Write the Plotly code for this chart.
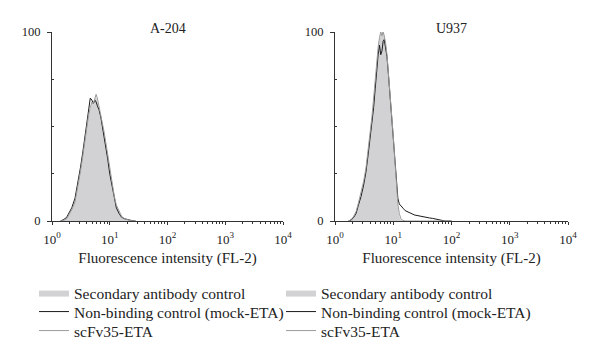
import plotly.graph_objects as go

# ---------------- data ----------------
panel_titles = ["A-204", "U937"]
series_names = ["Secondary antibody control", "Non-binding control (mock-ETA)", "scFv35-ETA"]
x_title = "Fluorescence intensity (FL-2)"
x_tickvals = [1, 10, 100, 1000, 10000]
x_ticktext = ["10<sup>0</sup>", "10<sup>1</sup>", "10<sup>2</sup>", "10<sup>3</sup>", "10<sup>4</sup>"]
y_tickvals = [0, 100]
y_minor_vals = [25, 50, 75]

# A-204 panel
a204_x = [1.4, 1.6, 1.8, 2.0, 2.2, 2.5, 2.8, 3.1, 3.4, 3.7, 4.0, 4.3, 4.6, 4.9, 5.2, 5.5, 5.8,
          6.1, 6.5, 7.0, 7.5, 8.0, 8.6, 9.2, 10, 11, 12, 13, 14.5, 16, 18, 20, 22.5, 25, 28]
a204_secondary = [0, 0.5, 1.5, 4, 6, 11, 19, 27, 35, 44, 50, 56, 59, 62, 63, 64, 66,
                  63, 60, 56, 51, 46, 40, 34, 26, 19, 12, 8, 4.5, 2, 1, 0.5, 0.2, 0, 0]
a204_nonbinding = [0, 0.8, 2, 4.5, 7, 12, 20, 28, 36, 45, 52, 58, 65, 64, 62, 64, 63,
                   61, 59, 55, 50, 45, 39, 33, 25, 18, 11, 7, 4, 2, 1.2, 0.8, 0.3, 0.1, 0]
a204_scfv = [0, 0.3, 1.2, 3.5, 6, 10, 18, 26, 34, 43, 50, 56, 60, 63, 62, 65, 67,
             65, 61, 57, 52, 47, 41, 35, 27, 20, 13, 8.5, 5, 2.5, 1.2, 0.6, 0.3, 0, 0]

# U937 panel
u937_x = [1.7, 1.9, 2.1, 2.3, 2.5, 2.8, 3.1, 3.4, 3.7, 4.0, 4.3, 4.6, 4.9, 5.2, 5.5, 5.8, 6.1,
          6.4, 6.7, 7.0, 7.4, 7.8, 8.2, 8.6, 9.0, 9.5, 10, 10.5, 11, 11.5, 12, 12.7, 13.4,
          14.2, 15, 16, 17.5, 19, 21, 23, 26, 29, 33, 37, 42, 47, 53, 60, 68, 77, 88, 100]
u937_secondary = [0, 1, 3, 5, 9, 14, 20, 27, 36, 44, 53, 64, 75, 84, 91, 96, 99,
                  100, 100, 99, 95, 89, 80, 71, 63, 53, 43, 32, 22, 13, 7, 2.3, 0.8,
                  0.2, 0, 0, 0, 0, 0, 0, 0, 0, 0, 0, 0, 0, 0, 0, 0, 0, 0, 0]
u937_nonbinding = [0, 0.5, 2, 4, 8, 13, 19, 26, 35, 43, 50, 60, 70, 80, 88, 93, 88,
                   90, 95, 96, 92, 87, 79, 71, 63, 54, 45, 35, 26, 18, 12, 9, 8,
                   7, 6.5, 5.5, 4.8, 4.3, 3.8, 3.2, 2.8, 2.6, 2.4, 2, 1.6, 1.4, 1, 0.6, 0.3, 0, 0, 0]
u937_scfv = [0, 0.8, 2.5, 5, 9, 15, 21, 28, 37, 46, 55, 65, 76, 85, 92, 97, 100,
             98, 100, 98, 94, 88, 80, 72, 64, 55, 45, 35, 25, 16, 9, 4, 1.5,
             0.5, 0.2, 0, 0, 0, 0, 0, 0, 0, 0, 0, 0, 0, 0, 0, 0, 0, 0, 0]

panels = [
    (a204_x, a204_secondary, a204_nonbinding, a204_scfv),
    (u937_x, u937_secondary, u937_nonbinding, u937_scfv),
]

# ---------------- styling ----------------
FONT = "Liberation Serif"
TXT = "#222222"
FILL = "#d2d2d4"
BLACK = "#1a1a1a"
LIGHT = "#9a9a9a"
AXIS = "#333333"
PAGE_OFF = 8           # default body margin of the html page
W, H = 600 - PAGE_OFF, 355 - PAGE_OFF


def fx(px):  # page x pixel -> paper fraction
    return (px - PAGE_OFF) / W


def fy(py):  # page y pixel -> paper fraction
    return (H - (py - PAGE_OFF)) / H


x_domains = [[fx(52), fx(283)], [fx(335), fx(568)]]
y_domain = [fy(221), fy(32)]
legend_x = [fx(74 - 40), fx(321 - 40)]
legend_rows = [293, 312, 331]
minor_x = [m * 10 ** d for d in range(4) for m in range(2, 10)]

fig = go.Figure()
legend_layout = {}
for i, (xs, sec, nb, sc) in enumerate(panels):
    xa = "x" if i == 0 else "x2"
    ya = "y" if i == 0 else "y2"
    names = []
    for k in range(3):
        idx = i * 3 + k + 1
        names.append("legend" if idx == 1 else f"legend{idx}")
        legend_layout[names[-1]] = dict(
            x=legend_x[i], xanchor="left", y=fy(legend_rows[k]), yanchor="middle",
            font=dict(family=FONT, size=15.5, color=TXT), bgcolor="rgba(0,0,0,0)",
            borderwidth=0, itemwidth=30)
    fig.add_trace(go.Scatter(x=xs, y=sec, mode="lines", fill="tozeroy", fillcolor=FILL,
                             line=dict(color=FILL, width=0), name=series_names[0],
                             xaxis=xa, yaxis=ya, legend=names[0]))
    fig.add_trace(go.Scatter(x=xs, y=nb, mode="lines", line=dict(color=BLACK, width=1),
                             name=series_names[1], xaxis=xa, yaxis=ya, legend=names[1]))
    fig.add_trace(go.Scatter(x=xs, y=sc, mode="lines", line=dict(color=LIGHT, width=1),
                             name=series_names[2], xaxis=xa, yaxis=ya, legend=names[2]))


def xaxis_cfg(i):
    return dict(domain=x_domains[i], type="log", range=[0, 4], showgrid=False, zeroline=False,
                showline=True, linecolor=AXIS, linewidth=1, automargin=False,
                tickvals=x_tickvals, ticktext=x_ticktext, ticks="outside", ticklen=3,
                tickcolor=AXIS, tickwidth=1, ticklabelstandoff=3,
                tickfont=dict(family=FONT, size=13, color=TXT),
                minor=dict(tickvals=minor_x, ticks="outside", ticklen=2, tickcolor=AXIS, tickwidth=1),
                title=dict(text=x_title, font=dict(family=FONT, size=15, color=TXT), standoff=6),
                anchor="y" if i == 0 else "y2", fixedrange=True)


def yaxis_cfg(i):
    return dict(domain=y_domain, range=[0, 100], showgrid=False, zeroline=False,
                showline=True, linecolor=AXIS, linewidth=1, automargin=False,
                tickvals=y_tickvals, ticks="outside", ticklen=4, tickcolor=AXIS, tickwidth=1,
                ticklabelstandoff=4,
                tickfont=dict(family=FONT, size=12.5, color=TXT),
                minor=dict(tickvals=y_minor_vals, ticks="inside", ticklen=2, tickcolor=AXIS, tickwidth=1),
                anchor="x" if i == 0 else "x2", fixedrange=True)


fig.update_layout(
    template="none",
    width=W, height=H, margin=dict(l=0, r=0, t=0, b=0, autoexpand=False),
    paper_bgcolor="white", plot_bgcolor="white",
    xaxis=xaxis_cfg(0), yaxis=yaxis_cfg(0),
    xaxis2=xaxis_cfg(1), yaxis2=yaxis_cfg(1),
    showlegend=True,
    **legend_layout,
)

for i, t in enumerate(panel_titles):
    fig.add_annotation(text=t, xref="paper", yref="paper",
                       x=(x_domains[i][0] + x_domains[i][1]) / 2, y=fy(28),
                       xanchor="center", yanchor="middle", showarrow=False,
                       font=dict(family=FONT, size=14, color=TXT))

fig.write_html("out.html")
